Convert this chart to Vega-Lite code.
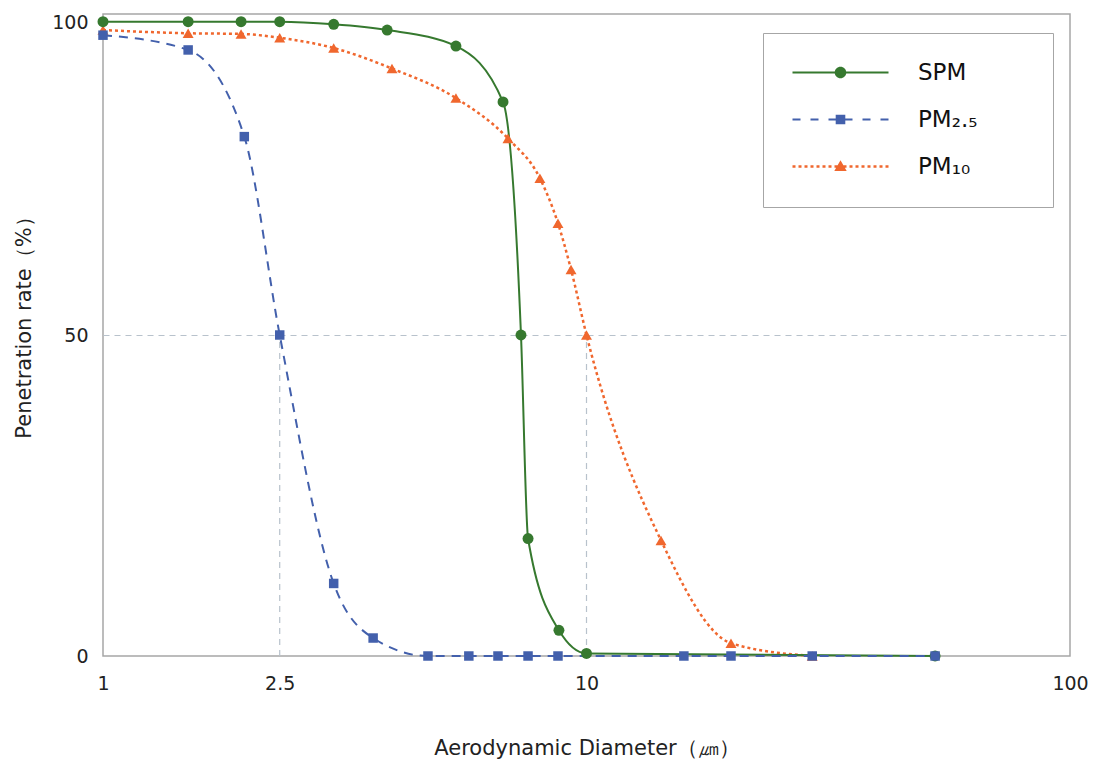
{
  "$schema": "https://vega.github.io/schema/vega-lite/v6.json",
  "width": 967,
  "height": 642,
  "autosize": {"type": "none"},
  "padding": {"left": 103, "top": 14, "right": 25, "bottom": 106},
  "background": "white",
  "config": {
    "font": "DejaVu Sans",
    "view": {"stroke": "#a6a6a6", "strokeWidth": 1.5}
  },
  "datasets": {
    "curves": [
      {"series": "PM10", "x": 1.0, "y": 97.5},
      {"series": "PM10", "x": 1.5, "y": 97.0},
      {"series": "PM10", "x": 1.93, "y": 96.9},
      {"series": "PM10", "x": 2.32, "y": 96.3},
      {"series": "PM10", "x": 3.0, "y": 94.7},
      {"series": "PM10", "x": 3.96, "y": 91.5},
      {"series": "PM10", "x": 5.37, "y": 86.9},
      {"series": "PM10", "x": 6.88, "y": 80.6},
      {"series": "PM10", "x": 8.01, "y": 74.4},
      {"series": "PM10", "x": 8.73, "y": 67.4},
      {"series": "PM10", "x": 9.29, "y": 60.2},
      {"series": "PM10", "x": 10.0, "y": 50.0},
      {"series": "PM10", "x": 14.26, "y": 18.0},
      {"series": "PM10", "x": 19.9, "y": 2.0},
      {"series": "PM10", "x": 29.3, "y": 0},
      {"series": "SPM", "x": 1.0, "y": 98.8},
      {"series": "SPM", "x": 1.5, "y": 98.8},
      {"series": "SPM", "x": 1.93, "y": 98.8},
      {"series": "SPM", "x": 2.32, "y": 98.8},
      {"series": "SPM", "x": 3.0, "y": 98.4},
      {"series": "SPM", "x": 3.87, "y": 97.5},
      {"series": "SPM", "x": 5.37, "y": 95.0},
      {"series": "SPM", "x": 6.72, "y": 86.3},
      {"series": "SPM", "x": 7.32, "y": 50.0},
      {"series": "SPM", "x": 7.57, "y": 18.3},
      {"series": "SPM", "x": 8.77, "y": 4.0},
      {"series": "SPM", "x": 10.0, "y": 0.4},
      {"series": "SPM", "x": 52.6, "y": 0},
      {"series": "PM2.5", "x": 1.0, "y": 96.7},
      {"series": "PM2.5", "x": 1.5, "y": 94.4},
      {"series": "PM2.5", "x": 1.96, "y": 80.9},
      {"series": "PM2.5", "x": 2.32, "y": 50.0},
      {"series": "PM2.5", "x": 3.0, "y": 11.3},
      {"series": "PM2.5", "x": 3.62, "y": 2.8},
      {"series": "PM2.5", "x": 4.7, "y": 0},
      {"series": "PM2.5", "x": 5.71, "y": 0},
      {"series": "PM2.5", "x": 6.56, "y": 0},
      {"series": "PM2.5", "x": 7.57, "y": 0},
      {"series": "PM2.5", "x": 8.73, "y": 0},
      {"series": "PM2.5", "x": 15.9, "y": 0},
      {"series": "PM2.5", "x": 19.9, "y": 0},
      {"series": "PM2.5", "x": 29.3, "y": 0},
      {"series": "PM2.5", "x": 52.6, "y": 0}
    ],
    "guides": [
      {"x": 2.32, "y": 50},
      {"x": 10, "y": 50}
    ],
    "minor": [
      {"x": 5}, {"x": 6}, {"x": 7}, {"x": 8}, {"x": 9},
      {"x": 20}, {"x": 30}, {"x": 40}, {"x": 50}, {"x": 60}, {"x": 70}, {"x": 80}, {"x": 90}
    ]
  },
  "encoding": {
    "x": {
      "field": "x",
      "type": "quantitative",
      "scale": {"type": "log", "domain": [1, 100]},
      "axis": {
        "title": "Aerodynamic Diameter（㎛）",
        "values": [1, 2.32, 10, 100],
        "labelExpr": "datum.value > 2 && datum.value < 3 ? '2.5' : format(datum.value, 'd')",
        "ticks": false,
        "domain": false,
        "grid": false,
        "labelFontSize": 19,
        "labelColor": "#222222",
        "labelPadding": 18,
        "labelFlush": false,
        "titleFontSize": 21,
        "titleFontWeight": "normal",
        "titleColor": "#222222",
        "titlePadding": 44
      }
    },
    "y": {
      "field": "y",
      "type": "quantitative",
      "scale": {"domain": [0, 100]},
      "axis": {
        "title": "Penetration rate（%）",
        "values": [0, 50, 100],
        "ticks": false,
        "domain": false,
        "grid": true,
        "gridColor": "#b8c2cc",
        "gridDash": [6, 5],
        "gridWidth": 1.2,
        "gridOpacity": {"condition": {"test": "datum.value === 50", "value": 1}, "value": 0},
        "labelFontSize": 19,
        "labelColor": "#222222",
        "labelPadding": 15,
        "labelOffset": {"condition": {"test": "datum.value === 100", "value": 8}, "value": 0},
        "titleFontSize": 21,
        "titleFontWeight": "normal",
        "titleColor": "#222222",
        "titlePadding": 17,
        "titleY": 308
      }
    }
  },
  "layer": [
    {
      "data": {"name": "guides"},
      "mark": {"type": "rule", "color": "#b8c2cc", "strokeDash": [6, 5], "strokeWidth": 1.2},
      "encoding": {
        "y": {"datum": 0, "type": "quantitative"},
        "y2": {"field": "y"}
      }
    },
    {
      "data": {"name": "minor"},
      "mark": {"type": "tick", "orient": "vertical", "size": 10, "thickness": 1.4, "yOffset": -5, "color": "#999999", "opacity": 1},
      "encoding": {
        "y": {"datum": 0, "type": "quantitative"}
      }
    },
    {
      "data": {"name": "curves"},
      "transform": [{"filter": "datum.series === 'PM10'"}],
      "mark": {"type": "line", "interpolate": "monotone", "strokeDash": [3, 3], "strokeWidth": 2.5},
      "encoding": {
        "color": {
          "field": "series",
          "type": "nominal",
          "scale": {"domain": ["SPM", "PM2.5", "PM10"], "range": ["#36792f", "#4360ac", "#f0672e"]},
          "legend": {
            "title": null,
            "orient": "none",
            "legendX": 660,
            "legendY": 19,
            "fillColor": "white",
            "strokeColor": "#a6a6a6",
            "padding": 28,
            "labelFontSize": 23,
            "labelColor": "#111111",
            "symbolSize": 400,
            "symbolOffset": 38,
            "labelOffset": 66,
            "rowPadding": 23,
            "labelExpr": "datum.label === 'PM2.5' ? 'PM₂.₅' : datum.label === 'PM10' ? 'PM₁₀' : datum.label",
            "encode": {
              "symbols": {
                "update": {
                  "shape": {"signal": "datum.value === 'SPM' ? 'M-4.8,-0.1L4.8,-0.1L4.8,0.1L-4.8,0.1ZM-0.58,0A0.58,0.58,0,1,1,0.58,0A0.58,0.58,0,1,1,-0.58,0ZM18.4,-0.005L18.41,-0.005L18.41,0.005L18.4,0.005Z' : datum.value === 'PM2.5' ? 'M-4.8,-0.1L-4.0,-0.1L-4.0,0.1L-4.8,0.1ZM-3.0,-0.1L-2.2,-0.1L-2.2,0.1L-3.0,0.1ZM-1.2,-0.1L-0.4,-0.1L-0.4,0.1L-1.2,0.1ZM0.4,-0.1L1.2,-0.1L1.2,0.1L0.4,0.1ZM2.2,-0.1L3.0,-0.1L3.0,0.1L2.2,0.1ZM4.0,-0.1L4.8,-0.1L4.8,0.1L4.0,0.1ZM-0.48,-0.48L0.48,-0.48L0.48,0.48L-0.48,0.48ZM18.4,-0.005L18.41,-0.005L18.41,0.005L18.4,0.005Z' : 'M-4.8,-0.12L-4.5,-0.12L-4.5,0.12L-4.8,0.12ZM-4.2,-0.12L-3.9,-0.12L-3.9,0.12L-4.2,0.12ZM-3.6,-0.12L-3.3,-0.12L-3.3,0.12L-3.6,0.12ZM-3.0,-0.12L-2.7,-0.12L-2.7,0.12L-3.0,0.12ZM-2.4,-0.12L-2.1,-0.12L-2.1,0.12L-2.4,0.12ZM-1.8,-0.12L-1.5,-0.12L-1.5,0.12L-1.8,0.12ZM-1.2,-0.12L-0.9,-0.12L-0.9,0.12L-1.2,0.12ZM0.9,-0.12L1.2,-0.12L1.2,0.12L0.9,0.12ZM1.5,-0.12L1.8,-0.12L1.8,0.12L1.5,0.12ZM2.1,-0.12L2.4,-0.12L2.4,0.12L2.1,0.12ZM2.7,-0.12L3.0,-0.12L3.0,0.12L2.7,0.12ZM3.3,-0.12L3.6,-0.12L3.6,0.12L3.3,0.12ZM3.9,-0.12L4.2,-0.12L4.2,0.12L3.9,0.12ZM4.5,-0.12L4.8,-0.12L4.8,0.12L4.5,0.12ZM-0.6,-0.12L-0.3,-0.12L-0.3,0.12L-0.6,0.12ZM0.3,-0.12L0.6,-0.12L0.6,0.12L0.3,0.12ZM0,-0.62L0.62,0.46L-0.62,0.46ZM18.4,-0.005L18.41,-0.005L18.41,0.005L18.4,0.005Z'"},
                  "fill": {"signal": "datum.value === 'SPM' ? '#36792f' : datum.value === 'PM2.5' ? '#4360ac' : '#f0672e'"},
                  "strokeWidth": {"value": 0},
                  "opacity": {"value": 1},
                  "fillOpacity": {"value": 1}
                }
              }
            }
          }
        }
      }
    },
    {
      "data": {"name": "curves"},
      "transform": [{"filter": "datum.series === 'SPM'"}],
      "mark": {"type": "line", "interpolate": "monotone", "strokeWidth": 2},
      "encoding": {"color": {"field": "series", "type": "nominal"}}
    },
    {
      "data": {"name": "curves"},
      "transform": [{"filter": "datum.series === 'PM2.5'"}],
      "mark": {"type": "line", "interpolate": "monotone", "strokeDash": [9, 7], "strokeWidth": 2},
      "encoding": {"color": {"field": "series", "type": "nominal"}}
    },
    {
      "data": {"name": "curves"},
      "transform": [{"filter": "datum.series === 'PM10'"}],
      "mark": {"type": "point", "shape": "triangle-up", "size": 120, "filled": true, "opacity": 1},
      "encoding": {"color": {"field": "series", "type": "nominal"}}
    },
    {
      "data": {"name": "curves"},
      "transform": [{"filter": "datum.series === 'SPM'"}],
      "mark": {"type": "point", "shape": "circle", "size": 120, "filled": true, "opacity": 1},
      "encoding": {"color": {"field": "series", "type": "nominal"}}
    },
    {
      "data": {"name": "curves"},
      "transform": [{"filter": "datum.series === 'PM2.5'"}],
      "mark": {"type": "point", "shape": "square", "size": 90, "filled": true, "opacity": 1},
      "encoding": {"color": {"field": "series", "type": "nominal"}}
    }
  ]
}
